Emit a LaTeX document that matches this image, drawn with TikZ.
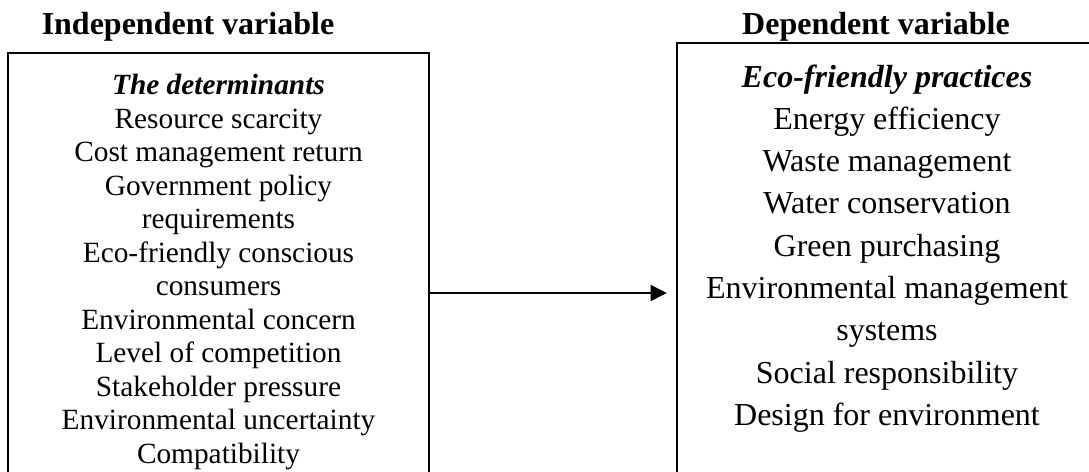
\documentclass[tikz,border=0pt]{standalone}
\usepackage{fontspec}
\setmainfont{Liberation Serif}
\usetikzlibrary{positioning,arrows.meta}

\begin{document}
\begin{tikzpicture}[x=0.375pt, y=-0.375pt,
  frame/.style={rectangle, draw, line width=0.9pt, inner sep=0pt},
  head/.style={font=\fontsize{12}{14}\selectfont\bfseries, anchor=base, inner sep=0pt},
  items/.style={align=center, anchor=north, inner sep=0pt, font=#1},
  ar/.style={-{Triangle[length=6pt, width=6pt]}, line width=0.6pt, shorten >=3.4pt}
]
\useasboundingbox (0,0) rectangle (1089,471);
\clip (0,0) rectangle (1089,471);

\node[head] (ivar) at (188,34) {Independent variable};
\node[head] (dvar) at (876,34) {Dependent variable};

\node[frame, minimum width=157.9pt, minimum height=180pt]   (indep) at (218.5,293) {};
\node[frame, minimum width=157.5pt, minimum height=187.5pt] (dep)   at (887,293)   {};

\node[items=\fontsize{11}{12.56}\selectfont] (dets) at (218.5,74)
  {\textbf{\textit{The determinants}}\\ Resource scarcity\\ Cost management return\\
   Government policy\\ requirements\\ Eco-friendly conscious\\ consumers\\
   Environmental concern\\ Level of competition\\ Stakeholder pressure\\
   Environmental uncertainty\\ Compatibility};
\node[items=\fontsize{12}{15.86}\selectfont] (pracs) at (887,64)
  {\textbf{\textit{Eco-friendly practices}}\\ Energy efficiency\\ Waste management\\
   Water conservation\\ Green purchasing\\ Environmental management\\ systems\\
   Social responsibility\\ Design for environment};

\draw[ar] (indep.east) -- (dep.west);
\end{tikzpicture}
\end{document}
